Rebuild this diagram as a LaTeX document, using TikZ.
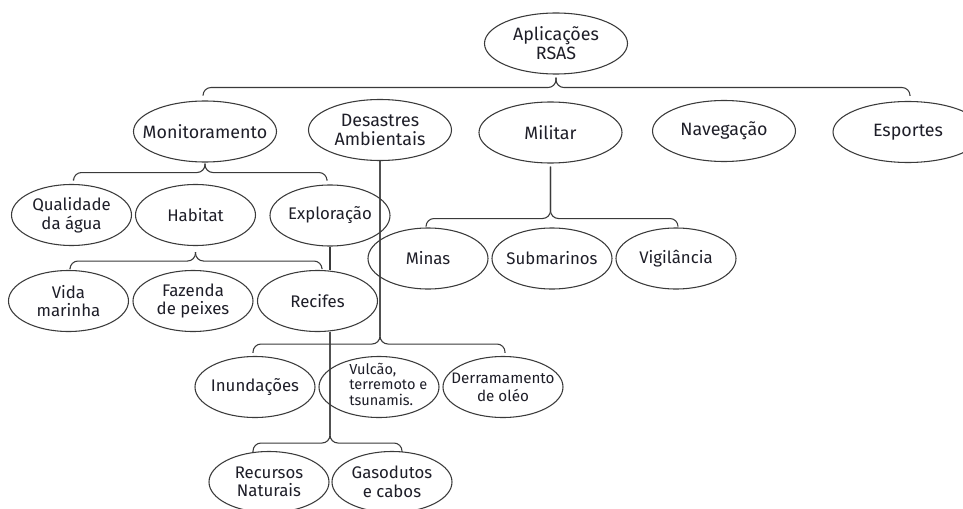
\documentclass[tikz,border=0pt]{standalone}
\usepackage{fontspec}
\setmainfont{Fira Sans}
\usetikzlibrary{shapes.geometric, calc}
\definecolor{inkgray}{HTML}{3A3A3A}
\definecolor{txtdark}{HTML}{1E1E28}

\begin{document}
\begin{tikzpicture}[x=0.75pt, y=0.75pt,
        bub/.style={ellipse, draw=inkgray, line width=0.8pt, inner xsep=-30pt, inner ysep=-6pt,
                    minimum width=90pt, minimum height=45.75pt, align=center, text=txtdark,
                    font=\fontsize{12.6}{13.9}\selectfont},
        bigbub/.style={bub, minimum width=107.25pt, font=\fontsize{13.4}{14.4}\selectfont},
        smalltxt/.style={font=\fontsize{11.4}{13.6}\selectfont},
        link/.style={draw=inkgray, line width=0.8pt, rounded corners=6pt}
    ]
        \fill[white] (0,0) rectangle (963,508);
        \useasboundingbox (0,0) rectangle (963,508);

        % top rows
        \node[bigbub] (app) at (556,464.5) {Aplicações\\RSAS};
        \node[bigbub] (mon) at (205,376.5) {Monitoramento};
        \node[bigbub] (des) at (380,378) {Desastres\\Ambientais};
        \node[bigbub] (mil) at (550.5,375.5) {Militar};
        \node[bigbub] (nav) at (724,377) {Navegação};
        \node[bigbub, minimum width=112.5pt] (esp) at (908,376) {Esportes};

        \node[bub] (qual) at (71.5,293) {Qualidade\\da água};
        \node[bub] (hab) at (195.5,293) {Habitat};
        \node[bub] (exp) at (330,292.5) {Exploração};
        \node[bub] (minas) at (428,249.5) {Minas};
        \node[bub] (sub) at (552,249.5) {Submarinos};
        \node[bub] (vig) at (676,249.5) {Vigilância};

        \node[bub] (vida) at (68.5,207) {Vida\\marinha};
        \node[bub] (faz) at (193,207) {Fazenda\\de peixes};
        \node[bub] (rec) at (317.5,207) {Recifes};

        % lower rows
        \node[bub] (inu) at (255,121) {Inundações};
        \node[bub, font=\fontsize{10.9}{11.3}\selectfont] (vul) at (379,121)
            {\hspace*{14pt}\begin{tabular}{@{}l@{}}Vulcão,\\terremoto e\\tsunamis.\end{tabular}};
        \node[bub, smalltxt] (der) at (503,121) {Derramamento\\de oléo};

        \node[bub] (recn) at (269,26) {Recursos\\Naturais};
        \node[bub] (gas) at (392,26) {Gasodutos\\e cabos};

        % braces
        \coordinate (appbar) at ($(app.south)+(0,-13)$);
        \coordinate (monbar) at ($(mon.south)+(0,-10)$);
        \coordinate (habbar) at ($(hab.south)+(0,-15)$);
        \coordinate (milbar) at ($(mil.south)+(0,-55)$);
        \coordinate (desbar) at ($(des.south)+(0,-183)$);
        \coordinate (recbar) at ($(exp.south |- rec.south)+(0,-111)$);

        \draw[link] ($(mon.north)+(-2,5)$) |- (appbar) -- ($(app.south)+(0,-3)$);
        \draw[link] ($(esp.north)+(2,5)$) |- (appbar) -- ($(app.south)+(0,-3)$);
        \draw[link] ($(qual.north)+(2,5)$) |- (monbar) -- ($(mon.south)+(0,-1)$);
        \draw[link] ($(exp.north)+(-3,5)$) |- (monbar) -- ($(mon.south)+(0,-1)$);
        \draw[link] ($(vida.north)+(1.5,2)$) |- (habbar) -- ($(hab.south)+(0,-6)$);
        \draw[link] ($(rec.north)+(4.5,2)$) |- (habbar) -- ($(hab.south)+(0,-6)$);
        \draw[link] (exp.south) -- (exp.south |- rec.north);
        \draw[link] ($(recn.north)+(-16,-1)$) |- (recbar) -- (exp.south |- rec.south);
        \draw[link] ($(gas.north)+(10,-1)$) |- (recbar) -- (exp.south |- rec.south);
        \draw[link] ($(inu.north)+(-2,3)$) |- (desbar) -- (des.south);
        \draw[link] ($(der.north)+(2,3)$) |- (desbar) -- (des.south);
        \draw[link] ($(minas.north)+(-2,1)$) |- (milbar) -- ($(mil.south)+(0,-3)$);
        \draw[link] ($(vig.north)+(2,1)$) |- (milbar) -- ($(mil.south)+(0,-3)$);
    \end{tikzpicture}
\end{document}
